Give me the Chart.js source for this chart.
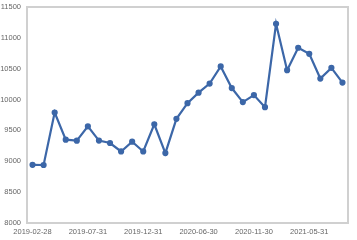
<!DOCTYPE html>
<html>
<head>
<meta charset="utf-8">
<script src="https://cdn.jsdelivr.net/npm/chart.js@4/dist/chart.umd.min.js"></script>
<style>
  html, body { margin: 0; padding: 0; background: #fff; }
  #wrap { width: 357px; height: 240px; }
</style>
</head>
<body>
<div id="wrap"><canvas id="lineChart" width="357" height="240"></canvas></div>
<script>
const dates = [
  '2019-02-28', '2019-03-31', '2019-04-30', '2019-05-31', '2019-06-30',
  '2019-07-31', '2019-08-31', '2019-09-30', '2019-10-31', '2019-11-30',
  '2019-12-31', '2020-02-29', '2020-03-31', '2020-04-30', '2020-05-31',
  '2020-06-30', '2020-07-31', '2020-08-31', '2020-09-30', '2020-10-31',
  '2020-11-30', '2020-12-31', '2021-02-28', '2021-03-31', '2021-04-30',
  '2021-05-31', '2021-06-30', '2021-07-31', '2021-08-31'
];
const values = [
  8942, 8940, 9790, 9350, 9334,
  9567, 9335, 9296, 9159, 9317,
  9159, 9600, 9133, 9688, 9942,
  10112, 10259, 10537, 10187, 9959,
  10073, 9877, 11227, 10476, 10840,
  10742, 10341, 10514, 10275
];
const yMin = 8000;
const yMax = 11500;
const yStep = 500;
const labelEvery = 5;

const frame = {
  id: 'frame',
  afterDraw(chart) {
    const a = chart.chartArea;
    const c = chart.ctx;
    c.save();
    c.strokeStyle = '#d0d0d0';
    c.lineWidth = 2;
    c.strokeRect(a.left, a.top, a.right - a.left, a.bottom - a.top);
    c.restore();
  }
};

const ctx = document.getElementById('lineChart').getContext('2d');

const chart = new Chart(ctx, {
  type: 'line',
  data: {
    labels: dates,
    datasets: [{
      data: values,
      borderColor: '#3c67a8',
      backgroundColor: '#3c67a8',
      borderWidth: 2.2,
      pointRadius: 2,
      pointHoverRadius: 2,
      tension: 0,
      fill: false
    }]
  },
  options: {
    responsive: false,
    animation: false,
    layout: { padding: { top: 7, right: 9, left: 0, bottom: 0 } },
    scales: {
      x: {
        offset: true,
        grid: { display: false, drawTicks: false },
        border: { display: false },
        ticks: {
          autoSkip: false,
          maxRotation: 0,
          padding: 4,
          color: '#666',
          font: { family: 'Liberation Sans', size: 7.5 },
          callback: function (v, i) {
            return i % labelEvery === 0 ? dates[i] : '';
          }
        }
      },
      y: {
        min: yMin,
        max: yMax,
        afterFit: s => { s.width = 27; s.paddingTop = 0; s.paddingBottom = 0; },
        grid: { display: false, drawTicks: false },
        border: { display: false },
        ticks: {
          stepSize: yStep,
          padding: 6,
          color: '#666',
          font: { family: 'Liberation Sans', size: 7.5 },
          callback: v => String(v)
        }
      }
    },
    plugins: {
      legend: { display: false },
      tooltip: { enabled: false }
    }
  },
  plugins: [frame]
});
</script>
</body>
</html>
